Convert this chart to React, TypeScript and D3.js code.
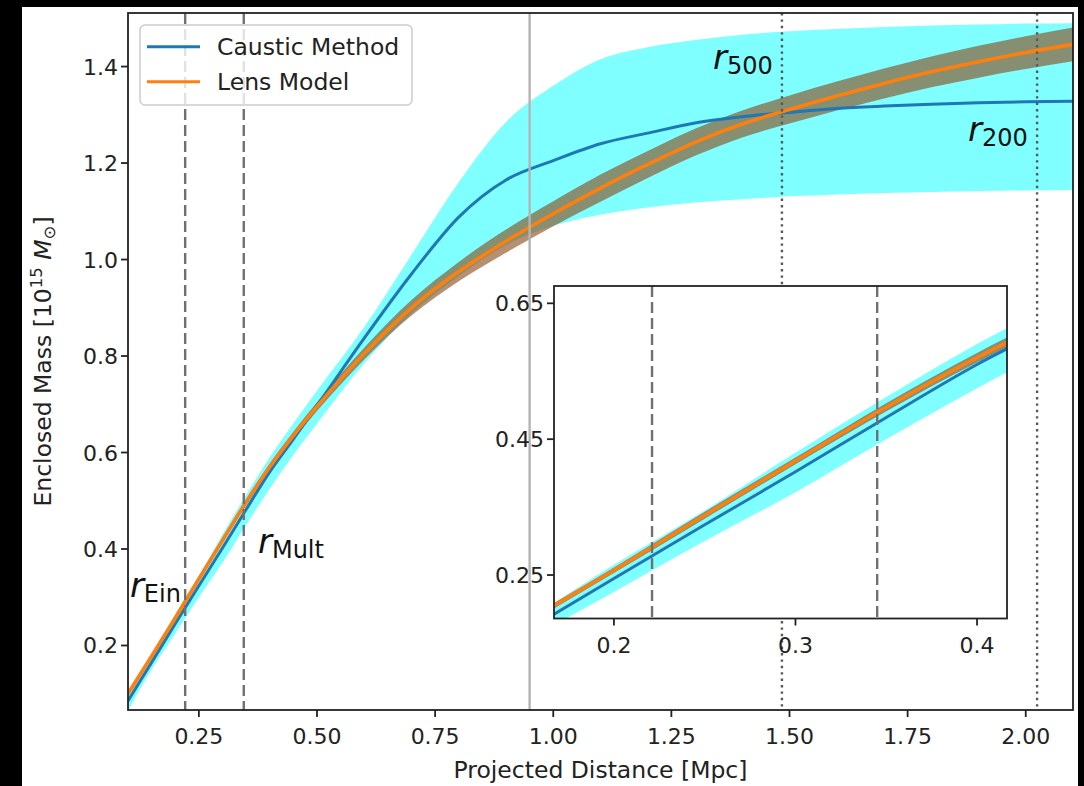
import React from 'react';
import * as d3 from 'd3';

// ---- data ----
const radius = [0.10, 0.15, 0.20, 0.25, 0.30, 0.35, 0.40, 0.45, 0.50, 0.60, 0.70, 0.80, 0.90, 1.00, 1.10, 1.20, 1.30, 1.40, 1.50, 1.60, 1.70, 1.80, 1.90, 2.00, 2.10];
const caustic = [0.085, 0.165, 0.245, 0.324, 0.402, 0.482, 0.560, 0.628, 0.697, 0.837, 0.970, 1.088, 1.165, 1.205, 1.240, 1.262, 1.283, 1.296, 1.305, 1.313, 1.318, 1.322, 1.325, 1.327, 1.328];
const causticLow = [0.065, 0.150, 0.225, 0.300, 0.372, 0.450, 0.525, 0.595, 0.660, 0.785, 0.888, 0.966, 1.030, 1.070, 1.093, 1.108, 1.118, 1.125, 1.131, 1.135, 1.138, 1.140, 1.142, 1.143, 1.144];
const causticHigh = [0.100, 0.180, 0.265, 0.345, 0.430, 0.512, 0.590, 0.660, 0.728, 0.860, 1.010, 1.160, 1.285, 1.360, 1.415, 1.440, 1.455, 1.466, 1.473, 1.478, 1.482, 1.485, 1.487, 1.489, 1.490];
const lens = [0.100, 0.178, 0.257, 0.338, 0.418, 0.497, 0.570, 0.635, 0.695, 0.805, 0.900, 0.975, 1.038, 1.095, 1.148, 1.197, 1.243, 1.281, 1.311, 1.339, 1.365, 1.389, 1.410, 1.429, 1.446];
const lensLow = [0.096, 0.174, 0.253, 0.333, 0.413, 0.491, 0.563, 0.627, 0.686, 0.793, 0.884, 0.955, 1.014, 1.069, 1.120, 1.169, 1.215, 1.253, 1.282, 1.309, 1.334, 1.357, 1.377, 1.395, 1.411];
const lensHigh = [0.104, 0.182, 0.261, 0.343, 0.423, 0.503, 0.577, 0.643, 0.704, 0.817, 0.916, 0.995, 1.062, 1.121, 1.176, 1.225, 1.271, 1.309, 1.340, 1.369, 1.396, 1.421, 1.443, 1.463, 1.481];

const rEin = 0.221;
const rMult = 0.345;
const rSolid = 0.95;
const r500 = 1.484;
const r200 = 2.024;

const mainXTicks = [0.25, 0.50, 0.75, 1.00, 1.25, 1.50, 1.75, 2.00];
const mainYTicks = [0.2, 0.4, 0.6, 0.8, 1.0, 1.2, 1.4];
const insetXTicks = [0.2, 0.3, 0.4];
const insetYTicks = [0.25, 0.45, 0.65];

const annotations = [
  { r: 0.104, m: 0.300, sub: 'Ein' },
  { r: 0.375, m: 0.392, sub: 'Mult' },
  { r: 1.338, m: 1.395, sub: '500' },
  { r: 1.878, m: 1.245, sub: '200' },
];

const legendItems = [
  { label: 'Caustic Method', color: '#1f77b4' },
  { label: 'Lens Model', color: '#ff7f0e' },
];

// ---- styling ----
const FONT = 'DejaVu Sans, sans-serif';
const CYAN = '#00ffff';
const BLUE = '#1f77b4';
const ORANGE = '#ff7f0e';
const TICK_FS = 22;
const LABEL_FS = 23.5;

type Sc = d3.ScaleLinear<number, number>;

function bandPath(sx: Sc, sy: Sc, lo: number[], hi: number[]) {
  return d3.area<number>()
    .x((_, i) => sx(radius[i]))
    .y0((_, i) => sy(lo[i]))
    .y1((_, i) => sy(hi[i]))
    .curve(d3.curveMonotoneX)(radius) || '';
}
function linePath(sx: Sc, sy: Sc, v: number[]) {
  return d3.line<number>()
    .x((_, i) => sx(radius[i]))
    .y((_, i) => sy(v[i]))
    .curve(d3.curveMonotoneX)(radius) || '';
}

function Curves({ sx, sy }: { sx: Sc; sy: Sc }) {
  return (
    <g>
      <path d={bandPath(sx, sy, causticLow, causticHigh)} fill={CYAN} fillOpacity={0.5} stroke="none" />
      <path d={bandPath(sx, sy, lensLow, lensHigh)} fill="#8b4513" fillOpacity={0.6} stroke="none" />
      <path d={linePath(sx, sy, caustic)} fill="none" stroke={BLUE} strokeWidth={3} />
      <path d={linePath(sx, sy, lens)} fill="none" stroke={ORANGE} strokeWidth={3.6} />
    </g>
  );
}

export default function App() {
  const L = 128, R = 1073, T = 13, B = 710;
  const x = d3.scaleLinear().domain([0.1, 2.1]).range([L, R]);
  const y = d3.scaleLinear().domain([0.0663, 1.511]).range([B, T]);

  const IL = 554, IR = 1007, IT = 286, IB = 618.5;
  const xi = d3.scaleLinear().domain([0.167, 0.4165]).range([IL, IR]);
  const yi = d3.scaleLinear().domain([0.186, 0.6755]).range([IB, IT]);

  const f2 = d3.format('.2f');
  const f1 = d3.format('.1f');

  return (
    <svg width={1084} height={786} style={{ position: 'absolute', left: 0, top: 0 }} fontFamily={FONT}>
      <defs>
        <clipPath id="mainClip"><rect x={L} y={T} width={R - L} height={B - T} /></clipPath>
        <clipPath id="insetClip"><rect x={IL} y={IT} width={IR - IL} height={IB - IT} /></clipPath>
      </defs>
      <rect x={0} y={0} width={1084} height={786} fill="#000" />
      <rect x={22} y={7} width={1056} height={779} fill="#fff" />

      {/* main axes content */}
      <g clipPath="url(#mainClip)">
        <Curves sx={x} sy={y} />
        <line x1={x(rEin)} x2={x(rEin)} y1={T} y2={B} stroke="#707070" strokeWidth={2.4} strokeDasharray="11 5" />
        <line x1={x(rMult)} x2={x(rMult)} y1={T} y2={B} stroke="#707070" strokeWidth={2.4} strokeDasharray="11 5" />
        <line x1={x(rSolid)} x2={x(rSolid)} y1={T} y2={B} stroke="#b4b4b4" strokeWidth={2.4} />
        <line x1={x(r500)} x2={x(r500)} y1={T} y2={B} stroke="#585858" strokeWidth={2.4} strokeDasharray="2.4 4" />
        <line x1={x(r200)} x2={x(r200)} y1={T} y2={B} stroke="#585858" strokeWidth={2.4} strokeDasharray="2.4 4" />
      </g>

      {/* annotations */}
      {annotations.map((a) => (
        <text key={a.sub} x={x(a.r)} y={y(a.m)} fill="#111">
          <tspan fontSize={34} fontStyle="italic">r</tspan>
          <tspan fontSize={24} dy={5}>{a.sub}</tspan>
        </text>
      ))}

      {/* main spines */}
      <rect x={L} y={T} width={R - L} height={B - T} fill="none" stroke="#222" strokeWidth={1.8} />

      {/* main ticks */}
      {mainXTicks.map((t) => (
        <g key={'x' + t}>
          <line x1={x(t)} x2={x(t)} y1={B} y2={B + 7} stroke="#222" strokeWidth={1.8} />
          <text x={x(t)} y={B + 34} textAnchor="middle" fontSize={TICK_FS} fill="#222">{f2(t)}</text>
        </g>
      ))}
      {mainYTicks.map((t) => (
        <g key={'y' + t}>
          <line x1={L - 7} x2={L} y1={y(t)} y2={y(t)} stroke="#222" strokeWidth={1.8} />
          <text x={L - 10} y={y(t) + 8} textAnchor="end" fontSize={TICK_FS} fill="#222">{f1(t)}</text>
        </g>
      ))}

      {/* axis labels */}
      <text x={(L + R) / 2} y={778} textAnchor="middle" fontSize={LABEL_FS} fill="#222">Projected Distance [Mpc]</text>
      <text transform={`translate(51,${(T + B) / 2}) rotate(-90)`} textAnchor="middle" fontSize={LABEL_FS} fill="#222">
        Enclosed Mass [10<tspan fontSize={16.5} dy={-9}>15</tspan><tspan dy={9}> </tspan>
        <tspan fontStyle="italic">M</tspan><tspan fontSize={16.5} dy={4}>⊙</tspan><tspan dy={-4}>]</tspan>
      </text>

      {/* legend */}
      <rect x={140} y={25} width={272} height={80} rx={5} fill="#fff" fillOpacity={0.8} stroke="#cccccc" strokeWidth={1.5} />
      {legendItems.map((it, i) => {
        const ly = 46.7 + i * 35;
        return (
          <g key={it.label}>
            <line x1={147} x2={200} y1={ly} y2={ly} stroke={it.color} strokeWidth={3} />
            <text x={217} y={ly + 8} fontSize={LABEL_FS} fill="#222">{it.label}</text>
          </g>
        );
      })}

      {/* inset */}
      <rect x={IL} y={IT} width={IR - IL} height={IB - IT} fill="#fff" />
      <g clipPath="url(#insetClip)">
        <Curves sx={xi} sy={yi} />
        <line x1={xi(rEin)} x2={xi(rEin)} y1={IT} y2={IB} stroke="#707070" strokeWidth={2.4} strokeDasharray="11 5" />
        <line x1={xi(rMult)} x2={xi(rMult)} y1={IT} y2={IB} stroke="#707070" strokeWidth={2.4} strokeDasharray="11 5" />
      </g>
      <rect x={IL} y={IT} width={IR - IL} height={IB - IT} fill="none" stroke="#222" strokeWidth={1.8} />
      {insetXTicks.map((t) => (
        <g key={'ix' + t}>
          <line x1={xi(t)} x2={xi(t)} y1={IB} y2={IB + 7} stroke="#222" strokeWidth={1.8} />
          <text x={xi(t)} y={IB + 34} textAnchor="middle" fontSize={TICK_FS} fill="#222">{f1(t)}</text>
        </g>
      ))}
      {insetYTicks.map((t) => (
        <g key={'iy' + t}>
          <line x1={IL - 7} x2={IL} y1={yi(t)} y2={yi(t)} stroke="#222" strokeWidth={1.8} />
          <text x={IL - 10} y={yi(t) + 8} textAnchor="end" fontSize={TICK_FS} fill="#222">{f2(t)}</text>
        </g>
      ))}
    </svg>
  );
}
